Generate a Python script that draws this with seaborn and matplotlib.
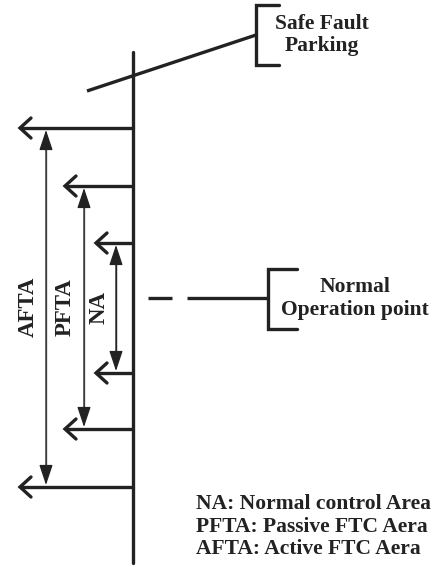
import matplotlib
matplotlib.use("Agg")
import matplotlib.pyplot as plt
import seaborn as sns
import pandas as pd

sns.set_theme(style="white")
plt.rcParams['font.family'] = ['Liberation Serif', 'DejaVu Serif']

# --- diagram values (pixel-like coordinates, y grows downward) ---
shaft_x = 133
shaft_y = [52, 563]
level_y = [128, 186, 243, 373, 429, 487]          # horizontal arrow levels
level_tip_x = [20, 65, 96, 96, 65, 20]            # where each arrow ends on the left
range_names = ["AFTA", "PFTA", "NA"]
range_x = [46, 84, 116]
range_y0 = [130, 188, 245]
range_y1 = [485, 427, 371]
range_label_x = [28, 65, 99]
range_label_y = [307, 307, 308]
range_color = ["#6a6a6a", "#6a6a6a", "#222222"]
legend_lines = ["NA: Normal control Area", "PFTA: Passive FTC Aera", "AFTA: Active FTC Aera"]
legend_y = [504, 527, 549]

ink = "#222222"
fig = plt.figure(figsize=(4.37, 5.67), dpi=100)
ax = fig.add_axes([0, 0, 1, 1])
ax.set_xlim(0, 437)
ax.set_ylim(567, 0)
ax.axis("off")

# main shaft
shaft = pd.DataFrame({"x": [shaft_x, shaft_x], "y": shaft_y})
sns.lineplot(data=shaft, x="x", y="y", ax=ax, color=ink, lw=2.4, sort=False, estimator=None)

# horizontal open arrows
for y, tx in zip(level_y, level_tip_x):
    ax.plot([shaft_x, tx], [y, y], color=ink, lw=2.4, solid_capstyle="butt")
    ax.plot([tx + 11, tx, tx + 11], [y - 10, y, y + 10], color=ink, lw=2.4,
            solid_joinstyle="miter")

# range double arrows + labels
for name, x, y0, y1, lx, ly, c in zip(range_names, range_x, range_y0, range_y1,
                                      range_label_x, range_label_y, range_color):
    ax.annotate("", xy=(x, y0), xytext=(x, y1),
                arrowprops=dict(arrowstyle="<|-|>,head_length=0.9,head_width=0.3",
                                color=ink, lw=0.9, shrinkA=0, shrinkB=0, mutation_scale=14))
    ax.plot([x, x], [y0 + 12, y1 - 12], color=c, lw=1.0)
    ax.text(lx, ly, name, rotation=90, ha="center", va="center",
            fontsize=16.5, fontweight="bold", color=ink)

# safe fault parking
ax.plot([87, 256], [91, 35], color=ink, lw=2.4, solid_capstyle="butt")
ax.plot([279, 256, 256, 279], [5, 5, 65, 65], color=ink, lw=2.4, solid_joinstyle="miter")
ax.text(322, 35, "Safe Fault\nParking", ha="center", va="center", fontsize=15.5,
        fontweight="bold", color=ink, linespacing=1.15)

# normal operation point
ax.plot([148, 172], [298, 298], color=ink, lw=2.4, solid_capstyle="butt")
ax.plot([187, 268], [298, 298], color=ink, lw=2.4, solid_capstyle="butt")
ax.plot([297, 268, 268, 297], [269, 269, 329, 329], color=ink, lw=2.4, solid_joinstyle="miter")
ax.text(355, 299, "Normal\nOperation point", ha="center", va="center", fontsize=15.5,
        fontweight="bold", color=ink, linespacing=1.2)

# legend text
for t, y in zip(legend_lines, legend_y):
    ax.text(196, y, t, ha="left", va="center", fontsize=15.5, fontweight="bold", color=ink)

fig.savefig("out.png", dpi=100)
